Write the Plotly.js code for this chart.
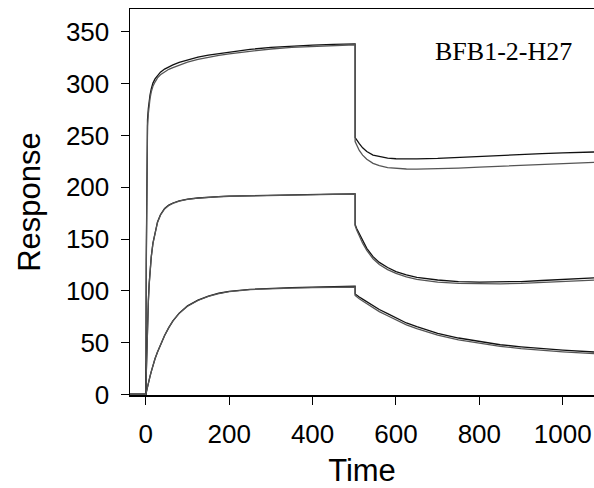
<!DOCTYPE html>
<html>
<head>
<meta charset="utf-8">
<script src="https://cdn.plot.ly/plotly-3.0.1.min.js"></script>
<style>html,body{margin:0;padding:0;background:#fff;}#chart{width:594px;height:488px;}</style>
</head>
<body>
<div id="chart"></div>
<script>
// Time points (s)
const time = [-40, 0, 1, 2, 3, 4, 6, 8, 10, 13, 17, 22, 28, 35, 45, 55, 65, 80, 100, 125, 150, 175, 200, 250, 300, 350, 400, 450, 502,
  502, 506, 512, 520, 530, 545, 560, 580, 600, 625, 650, 700, 750, 800, 850, 900, 950, 1000, 1075];

// High concentration: two traces
const highA = [0, 0, 130, 205, 250, 265, 276, 284, 289, 295, 300.5, 304.5, 308, 311, 314, 316.3, 318, 320.5, 323, 325.5, 327.5, 329, 330.5, 333, 335, 336.3, 337.2, 337.8, 338.3,
  248, 245, 242, 238, 234.5, 231, 229.5, 228, 227.5, 227.3, 227.3, 227.8, 228.8, 230, 231, 231.8, 232.5, 233.2, 234];
const highB = [0, 0, 120, 195, 242, 259, 271, 280, 285.5, 292, 297.5, 301.5, 305.5, 308.5, 311.5, 313.8, 315.5, 318, 320.8, 323.3, 325.5, 327.2, 328.8, 331.3, 333.4, 335, 336, 336.8, 337.5,
  244, 240, 235.5, 231, 227, 223, 220.8, 219, 218.2, 217.6, 217.4, 217.6, 218.5, 219.5, 220.3, 221, 221.8, 222.7, 224];

// Middle concentration
const midA = [0, 0, 20, 40, 55, 68, 90, 107, 119, 133, 146, 157, 166.5, 173.5, 179.5, 182.8, 184.8, 186.8, 188.5, 189.6, 190.5, 191, 191.5, 192, 192.3, 192.7, 193, 193.3, 193.6,
  164, 160, 155, 148, 141, 133, 127.5, 122.5, 118.5, 115.5, 113, 110.5, 109, 108.5, 108.5, 109, 110, 111, 112.5];
const midB = [0, 0, 19, 38, 54, 67, 89, 106, 118, 132.5, 145.5, 156.5, 166, 173, 179, 182.4, 184.5, 186.6, 188.3, 189.4, 190.3, 190.8, 191.3, 191.8, 192.1, 192.5, 192.8, 193.1, 193.4,
  163, 158.5, 153, 146, 139, 131, 125.5, 120.5, 116.8, 113.5, 111, 108.5, 107.3, 106.8, 106.8, 107.2, 108, 109, 110.3];

// Low concentration
const lowA = [0, 0, 2, 4, 5.5, 7.3, 10.5, 14, 17.5, 22, 28, 34.5, 41, 48, 57, 64.5, 71, 78.5, 85.5, 91, 95, 97.7, 99.5, 101.5, 102.5, 103.1, 103.5, 103.8, 104.5,
  97, 95.5, 94, 92, 89.5, 86, 82, 78, 74, 69, 65.5, 59, 54.5, 51, 48, 46, 44.2, 42.8, 41];
const lowB = [0, 0, 2, 4, 5.5, 7.3, 10.5, 14, 17.5, 22, 28, 34.5, 41, 48, 57, 64.5, 71, 78.3, 85.2, 90.7, 94.7, 97.4, 99.2, 101.2, 102.2, 102.7, 103.1, 103.4, 103.7,
  95.5, 94, 92.3, 90.2, 87.6, 84, 80, 76, 72, 67.2, 63.6, 57.2, 52.7, 49.2, 46.4, 44.3, 42.6, 41.2, 39.5];

const xTicks = [0, 200, 400, 600, 800, 1000];
const yTicks = [0, 50, 100, 150, 200, 250, 300, 350];

const series = [highA, highB, midA, midB, lowA, lowB];
const colors = ['#111111', '#555555', '#111111', '#555555', '#111111', '#555555'];

const traces = series.map((ys, i) => ({
  x: time, y: ys, type: 'scatter', mode: 'lines',
  line: {color: colors[i], width: 1.3}, hoverinfo: 'skip', showlegend: false
}));

const font = 'Liberation Sans, Arial, Helvetica, sans-serif';
const layout = {
  width: 594, height: 488,
  margin: {l: 130, r: 0, t: 9, b: 93},
  paper_bgcolor: '#ffffff', plot_bgcolor: '#ffffff',
  showlegend: false,
  xaxis: {
    range: [-38, 1075], tickvals: xTicks, ticktext: xTicks.map(String),
    showgrid: false, zeroline: false, showline: true, mirror: true,
    linecolor: '#000', linewidth: 1.5,
    ticks: 'outside', ticklen: 8, tickwidth: 1, tickcolor: '#000',
    ticklabelstandoff: 7,
    tickfont: {family: font, size: 26, color: '#000'},
    title: {text: 'Time', font: {family: font, size: 31, color: '#000'}, standoff: 17},
    automargin: false
  },
  yaxis: {
    range: [-0.5, 372], tickvals: yTicks, ticktext: yTicks.map(String),
    showgrid: false, zeroline: false, showline: true, mirror: false,
    linecolor: '#000', linewidth: 1.5,
    ticks: 'outside', ticklen: 8, tickwidth: 1, tickcolor: '#000',
    ticklabelstandoff: 6,
    tickfont: {family: font, size: 26, color: '#000'},
    title: {text: 'Response', font: {family: font, size: 31, color: '#000'}, standoff: 16},
    automargin: false
  },
  annotations: [{
    xref: 'paper', yref: 'paper', x: 0.806, y: 0.889, xanchor: 'center', yanchor: 'middle',
    text: 'BFB1-2-H27', showarrow: false,
    font: {family: 'Liberation Serif, Times New Roman, serif', size: 26, color: '#000'}
  }]
};

Plotly.newPlot('chart', traces, layout, {staticPlot: true, displayModeBar: false});
</script>
</body>
</html>
